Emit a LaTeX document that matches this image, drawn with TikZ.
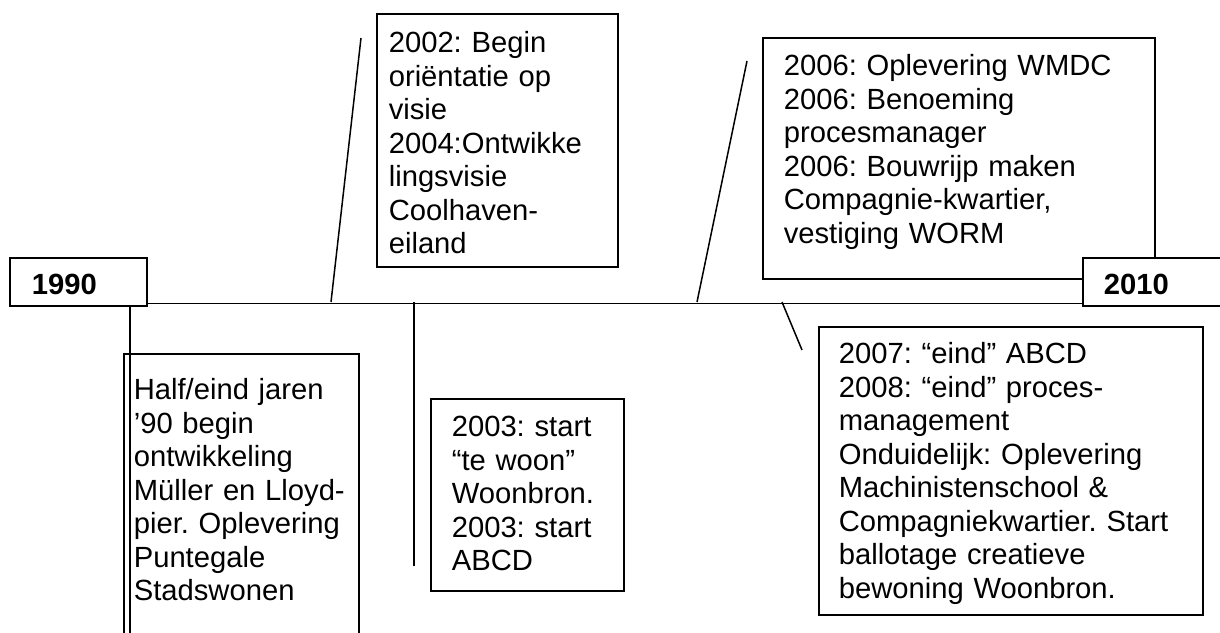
\documentclass[tikz,border=0pt]{standalone}
\usepackage{fontspec}
\setmainfont{Liberation Sans}
\hyphenpenalty=10000
\frenchspacing
\begin{document}
\begin{tikzpicture}[x=1pt, y=-1pt,
    vak/.style={draw, fill=white, line width=1.6pt, anchor=north west, inner ysep=0pt,
        align=left, font=\fontsize{29.2}{33.5}\selectfont},
    jaar/.style={vak, font=\fontsize{29.2}{33.5}\selectfont\bfseries},
    lijn/.style={line width=1.5pt}]

    \useasboundingbox (0,0) rectangle (1220,632);
    \clip (0,0) rectangle (1220,632);

    % Jaartallen begin en eind
    \node[jaar, inner xsep=22pt, text width=93pt, text height=37pt, text depth=11pt] (y1990) at (9,257) {1990};

    % Gebeurtenissen boven de tijdlijn
    \node[vak, inner xsep=12pt, text width=217pt, text height=39pt, text depth=214pt] (b02) at (376,13)
        {2002: Begin\\oriëntatie op\\visie\\2004:Ontwikke\\lingsvisie\\Coolhaven-\\eiland};
    \node[vak, inner xsep=21pt, text width=350pt, text height=38pt, text depth=203pt] (b06) at (762,37)
        {2006: Oplevering WMDC\\2006: Benoeming\\procesmanager\\2006: Bouwrijp maken\\Compagnie-kwartier,\\vestiging WORM};

    \node[jaar, inner xsep=21pt, text width=116pt, text height=37pt, text depth=11pt] (y2010) at (1082,257) {2010};

    % Gebeurtenissen onder de tijdlijn
    \node[vak, inner xsep=10pt, text width=215pt, text height=46pt, text depth=301pt] (b90) at (123,353)
        {Half/eind jaren\\’90 begin\\ontwikkeling\\Müller en Lloyd-\\pier. Oplevering\\Puntegale\\Stadswonen};
    \node[vak, inner xsep=21pt, text width=151pt, text height=38pt, text depth=154pt] (b03) at (430,398)
        {2003: start\\“te woon”\\Woonbron.\\2003: start\\ABCD};
    \node[vak, inner xsep=20pt, text width=344pt, text height=37pt, text depth=251pt] (b07) at (818,326)
        {2007: “eind” ABCD\\2008: “eind” proces-\\management\\Onduidelijk: Oplevering\\Machinistenschool \&\\Compagniekwartier. Start\\ballotage creatieve\\bewoning Woonbron.};

    % Tijdlijn
    \draw[lijn] ([yshift=3pt]y1990.south east) -- ([yshift=3pt]y2010.south west);

    % Verbindingslijnen
    \coordinate (e90) at (130,640);
    \draw[lijn] (y1990.south -| e90) -- (e90);

    \coordinate (s02) at (331,302);
    \coordinate (e02) at (361,38);
    \draw[lijn] (s02) -- (e02);

    \coordinate (s03) at (414,302);
    \coordinate (e03) at (414,566);
    \draw[lijn] (s03) -- (e03);

    \coordinate (s06) at (697,302);
    \coordinate (e06) at (747,61);
    \draw[lijn] (s06) -- (e06);

    \coordinate (s07) at (782,302);
    \coordinate (e07) at (802,350);
    \draw[lijn] (s07) -- (e07);
\end{tikzpicture}
\end{document}
